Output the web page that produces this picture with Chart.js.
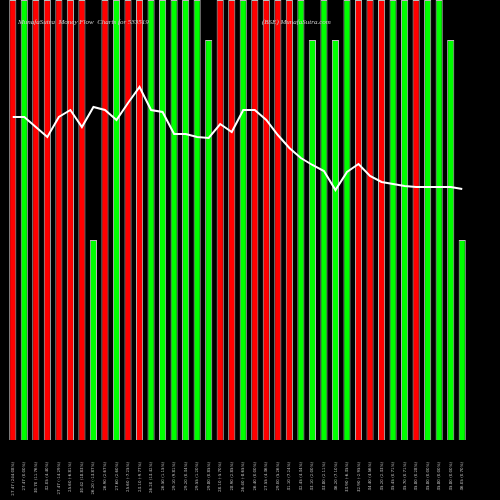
<!DOCTYPE html><html><head><script src="https://cdn.jsdelivr.net/npm/chart.js@4"></script>
<style>body{margin:0;background:#000}#w{width:500px;height:500px}</style></head><body><div id="w"><canvas id="c"></canvas></div><script>
const labels=["27.47 (244.08%)","27.47 (0.00%)","30.70 (11.76%)","32.05 (4.40%)","27.47 (-14.29%)","25.60 (-6.81%)","30.42 (18.83%)","26.20 (-13.87%)","26.90 (2.67%)","27.60 (2.60%)","25.60 (-7.25%)","23.10 (-9.77%)","26.20 (13.42%)","26.50 (1.15%)","29.10 (9.81%)","29.20 (0.34%)","29.55 (1.20%)","29.80 (0.85%)","28.10 (-5.70%)","28.90 (2.85%)","26.40 (-8.65%)","26.40 (0.00%)","27.55 (4.36%)","29.00 (5.26%)","31.10 (7.24%)","32.45 (4.34%)","33.10 (2.00%)","33.80 (2.11%)","36.20 (7.10%)","33.90 (-6.35%)","32.90 (-2.95%)","34.40 (4.56%)","35.20 (2.33%)","35.45 (0.71%)","35.70 (0.71%)","35.80 (0.28%)","35.80 (0.00%)","35.80 (0.00%)","35.80 (0.00%)","36.05 (0.70%)"];
const colors="RGRRRRRGRGRRGGGGGGRRGRRRRGGGGGRRRGGRGGGG";
const barVals=[440,440,440,440,440,440,440,200,440,440,440,440,440,440,440,440,440,400,440,440,440,440,440,440,440,440,400,440,400,440,440,440,440,440,440,440,440,440,400,200];
const lineY=[117,117,127,137,117,110,127,107,110,120,103,87,110,112,134,134,137,138,124,132,110,110,120,135,148,158,165,171,190,172,164,176,182,184,186,187,187,187,187,189];
const lineVals=lineY.map(y=>440-y);
const fill=[...colors].map(c=>c==="R"?"#ff0000":"#00ff00");
new Chart(document.getElementById('c'),{data:{labels,datasets:[
{type:'line',data:lineVals,borderColor:'#fff',borderWidth:2,pointRadius:0,tension:0,order:0},
{type:'bar',data:barVals,backgroundColor:fill,borderColor:'#bbbbbb',borderWidth:1,barPercentage:0.62,categoryPercentage:1,order:1}]},
options:{animation:false,responsive:true,maintainAspectRatio:false,layout:{padding:{left:7,right:32,top:0,bottom:60}},
plugins:{legend:{display:false},tooltip:{enabled:false}},
scales:{y:{display:false,min:0,max:440},x:{display:false}}},
plugins:[{id:'t',afterDraw(ch){const x=ch.ctx;x.save();x.fillStyle='#ccc';x.font='italic 7px "Liberation Serif"';x.fillText('MunafaSutra  Money Flow  Charts for 533519',18,24);x.fillText('(BSE) MunafaSutra.com',262,24);
x.font='4px "DejaVu Sans"';x.fillStyle='#bbb';x.textAlign='right';x.textBaseline='middle';
labels.forEach((l,i)=>{const px=ch.scales.x.getPixelForValue(i);x.save();x.translate(px,460);x.rotate(-Math.PI/2);x.fillText(l,-2,0);x.restore();});
x.restore();}}]});
</script></body></html>
